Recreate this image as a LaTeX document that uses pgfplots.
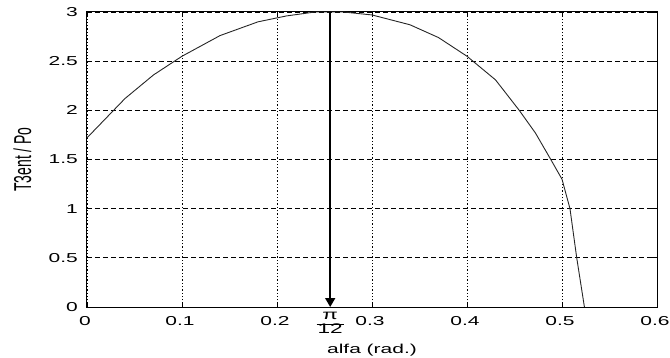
\documentclass[border=0pt]{standalone}
\usepackage{fontspec}
\setmainfont{Liberation Sans}[FakeStretch=1.62]
\newfontfamily\plainfont{Liberation Sans}
\usepackage{graphicx}
\usepackage{pgfplots}
\pgfplotsset{compat=1.18}
\usetikzlibrary{arrows.meta}
\begin{document}
\begin{tikzpicture}
\begin{axis}[
  scale only axis,
  width=570bp, height=295bp,
  at={(0,0)}, anchor=south west,
  xmin=0, xmax=0.6, ymin=0, ymax=3,
  xtick={0,0.1,0.2,0.3,0.4,0.5,0.6},
  ytick={0,0.5,1,1.5,2,2.5,3},
  /pgf/number format/assume math mode=true,
  font=\fontsize{13}{15}\selectfont,
  axis line style={black, line width=1bp},
  tick align=inside,
  major tick length=5bp,
  tick style={black, line width=0.8bp},
  xmajorgrids, ymajorgrids,
  x grid style={black, line width=0.9bp, dash pattern=on 1.3bp off 2bp},
  y grid style={black, line width=0.7bp, dash pattern=on 5bp off 3bp},
  xticklabel style={anchor=base, inner sep=0pt, yshift=-18.7bp, xshift=-2bp},
  yticklabel style={anchor=east, inner sep=0pt, xshift=-9bp},
  xlabel={alfa (rad.)},
  xlabel style={at={(axis description cs:0.5,0)}, anchor=base, inner sep=0pt, yshift=-46bp},
  ylabel={\scalebox{1}[1.75]{\plainfont\fontsize{14}{16}\selectfont T3ent / Po}},
  ylabel style={at={(axis description cs:0,0.5)}, anchor=center, inner sep=0pt, yshift=64.5bp},
  clip=false,
]
\addplot[black!85, line width=0.9bp] coordinates {
  (0,1.72) (0.04,2.12) (0.07,2.36) (0.10,2.55) (0.14,2.76) (0.18,2.90)
  (0.21,2.96) (0.24,3.00) (0.27,3.00) (0.30,2.97) (0.34,2.87) (0.37,2.74)
  (0.40,2.55) (0.43,2.31) (0.455,2.00) (0.472,1.77) (0.487,1.52)
  (0.50,1.30) (0.5084,1.00) (0.5155,0.50) (0.5236,0)
};
\addplot[black, line width=1.6bp, -{Triangle[width=10bp,length=9bp]}] coordinates {(0.256,3) (0.256,0)};
\node[anchor=north, inner sep=0pt, yshift=-3bp, font=\fontsize{14}{16}\selectfont] at (axis cs:0.256,0)
  {\renewcommand{\arraystretch}{0.85}\setlength{\tabcolsep}{1pt}\begin{tabular}{c}π\\\hline 12\end{tabular}};
\end{axis}
\pgfresetboundingbox
\path[use as bounding box] (-87bp,-51bp) rectangle (583bp,307bp);
\end{tikzpicture}
\end{document}
